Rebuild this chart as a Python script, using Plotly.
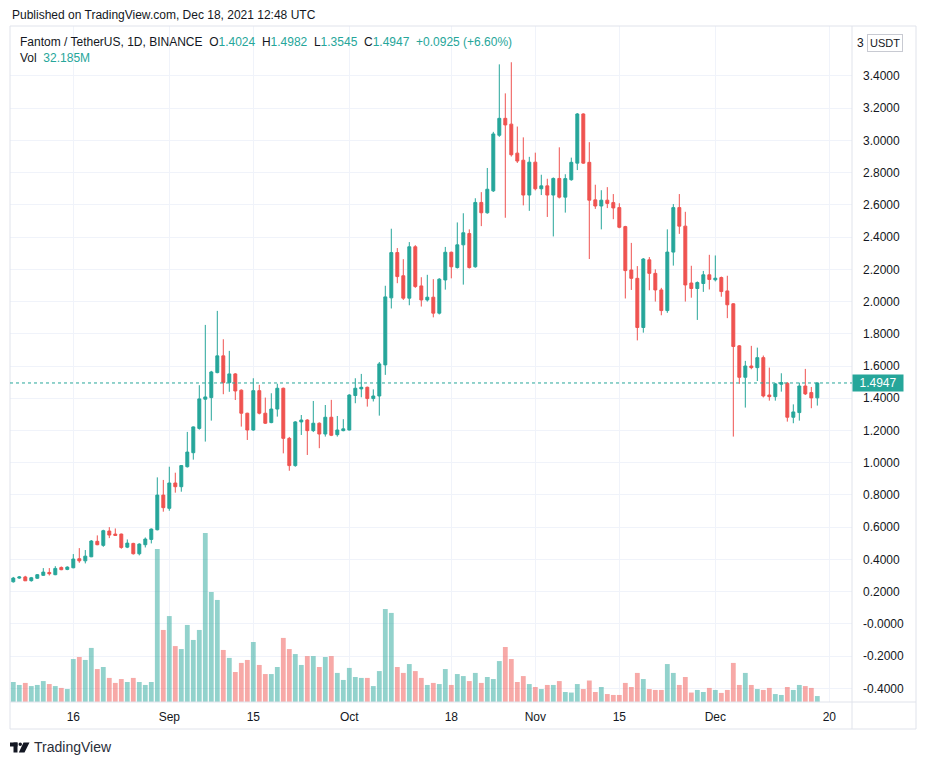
import pandas as pd
import plotly.graph_objects as go

# FTM/USDT daily candles, Aug 6 - Dec 18 2021
dates = pd.date_range("2021-08-06", "2021-12-18", freq="D")

opens = [0.261, 0.284, 0.291, 0.268, 0.283, 0.301, 0.319, 0.305, 0.350, 0.338,
         0.348, 0.404, 0.391, 0.416, 0.512, 0.487, 0.576, 0.557, 0.557, 0.476,
         0.499, 0.435, 0.491, 0.524, 0.584, 0.799, 0.717, 0.874, 0.851, 0.975,
         1.062, 1.213, 1.394, 1.404, 1.559, 1.663, 1.497, 1.551, 1.450, 1.307,
         1.203, 1.447, 1.307, 1.249, 1.333, 1.462, 1.151, 0.982, 1.253, 1.265,
         1.199, 1.245, 1.178, 1.282, 1.174, 1.199, 1.203, 1.417, 1.458, 1.468,
         1.398, 1.414, 1.607, 2.023, 2.304, 2.160, 2.021, 2.340, 2.097, 2.010,
         2.027, 1.928, 2.134, 2.306, 2.211, 2.352, 2.422, 2.216, 2.615, 2.551,
         2.687, 3.032, 3.137, 3.101, 2.921, 2.877, 2.661, 2.865, 2.700, 2.718,
         2.661, 2.764, 2.648, 2.756, 2.859, 3.164, 2.864, 2.631, 2.593, 2.629,
         2.614, 2.583, 2.465, 2.196, 2.144, 1.839, 2.259, 2.175, 2.072, 1.944,
         2.307, 2.583, 2.468, 2.115, 2.081, 2.112, 2.166, 2.135, 2.149, 2.066,
         1.986, 1.725, 1.530, 1.600, 1.590, 1.652, 1.420, 1.410, 1.487, 1.493,
         1.282, 1.311, 1.476, 1.435, 1.4024]

highs = [0.291, 0.297, 0.298, 0.291, 0.309, 0.346, 0.346, 0.358, 0.356, 0.357,
         0.433, 0.470, 0.458, 0.520, 0.549, 0.584, 0.600, 0.592, 0.560, 0.524,
         0.503, 0.500, 0.536, 0.592, 0.909, 0.893, 0.975, 0.938, 0.985, 1.191,
         1.225, 1.481, 1.855, 1.570, 1.942, 1.766, 1.694, 1.556, 1.455, 1.310,
         1.524, 1.483, 1.404, 1.431, 1.490, 1.466, 1.160, 1.258, 1.296, 1.270,
         1.383, 1.250, 1.358, 1.390, 1.290, 1.270, 1.425, 1.524, 1.551, 1.472,
         1.455, 1.625, 2.098, 2.452, 2.332, 2.263, 2.369, 2.350, 2.151, 2.166,
         2.139, 2.145, 2.339, 2.310, 2.491, 2.548, 2.448, 2.641, 2.679, 2.829,
         3.053, 3.472, 3.292, 3.485, 3.086, 3.019, 2.898, 2.924, 2.787, 2.762,
         2.770, 2.957, 2.790, 2.893, 3.170, 3.168, 2.989, 2.725, 2.691, 2.710,
         2.667, 2.610, 2.470, 2.364, 2.220, 2.270, 2.276, 2.200, 2.085, 2.448,
         2.605, 2.667, 2.557, 2.222, 2.125, 2.190, 2.290, 2.286, 2.155, 2.160,
         1.990, 1.730, 1.632, 1.725, 1.714, 1.665, 1.590, 1.495, 1.555, 1.500,
         1.362, 1.497, 1.582, 1.470, 1.4982]

lows = [0.256, 0.279, 0.266, 0.262, 0.279, 0.298, 0.300, 0.302, 0.333, 0.333,
        0.345, 0.379, 0.375, 0.414, 0.488, 0.478, 0.532, 0.545, 0.466, 0.470,
        0.430, 0.425, 0.474, 0.499, 0.580, 0.696, 0.702, 0.814, 0.820, 0.970,
        1.019, 1.205, 1.131, 1.261, 1.555, 1.425, 1.440, 1.389, 1.224, 1.141,
        1.198, 1.300, 1.240, 1.245, 1.286, 1.058, 0.950, 0.975, 1.172, 1.048,
        1.190, 1.090, 1.162, 1.165, 1.162, 1.195, 1.200, 1.369, 1.406, 1.348,
        1.380, 1.292, 1.545, 1.957, 2.114, 2.010, 1.977, 2.085, 1.969, 2.000,
        1.902, 1.920, 2.074, 2.144, 2.205, 2.105, 2.205, 2.210, 2.468, 2.545,
        2.680, 3.022, 2.520, 2.900, 2.860, 2.597, 2.563, 2.690, 2.661, 2.525,
        2.404, 2.640, 2.552, 2.750, 2.816, 2.855, 2.264, 2.575, 2.448, 2.580,
        2.511, 2.455, 2.019, 2.072, 1.759, 1.807, 2.070, 2.000, 1.915, 1.930,
        2.223, 2.420, 2.000, 2.024, 1.886, 2.060, 2.075, 2.125, 2.030, 1.897,
        1.162, 1.489, 1.342, 1.580, 1.507, 1.405, 1.385, 1.385, 1.441, 1.255,
        1.245, 1.261, 1.420, 1.338, 1.3545]

closes = [0.284, 0.291, 0.267, 0.286, 0.305, 0.321, 0.311, 0.344, 0.336, 0.352,
          0.402, 0.391, 0.420, 0.514, 0.491, 0.578, 0.551, 0.549, 0.474, 0.501,
          0.435, 0.495, 0.526, 0.588, 0.799, 0.721, 0.874, 0.851, 0.982, 1.066,
          1.222, 1.396, 1.408, 1.563, 1.663, 1.497, 1.551, 1.445, 1.307, 1.203,
          1.447, 1.307, 1.245, 1.333, 1.462, 1.151, 0.982, 1.253, 1.265, 1.199,
          1.245, 1.178, 1.282, 1.170, 1.203, 1.210, 1.420, 1.462, 1.468, 1.398,
          1.414, 1.613, 2.029, 2.304, 2.155, 2.021, 2.340, 2.093, 2.010, 2.027,
          1.928, 2.139, 2.306, 2.216, 2.352, 2.427, 2.211, 2.615, 2.551, 2.697,
          3.040, 3.137, 3.096, 2.911, 2.872, 2.661, 2.865, 2.700, 2.718, 2.661,
          2.764, 2.648, 2.763, 2.864, 3.164, 2.859, 2.629, 2.593, 2.629, 2.609,
          2.581, 2.461, 2.192, 2.144, 1.839, 2.264, 2.175, 2.072, 1.944, 2.307,
          2.583, 2.468, 2.103, 2.081, 2.118, 2.166, 2.137, 2.145, 2.062, 1.980,
          1.721, 1.530, 1.600, 1.590, 1.652, 1.414, 1.410, 1.489, 1.497, 1.282,
          1.315, 1.476, 1.427, 1.4022, 1.4947]

# volume, millions
volumes = [108, 92, 103, 86, 92, 113, 97, 86, 76, 70,
           232, 243, 227, 292, 178, 189, 130, 103, 124, 108,
           130, 108, 92, 108, 826, 389, 464, 302, 286, 416,
           335, 389, 913, 594, 551, 281, 238, 162, 211, 227,
           324, 200, 151, 151, 189, 346, 286, 259, 200, 248,
           248, 189, 243, 248, 157, 119, 184, 135, 130, 130,
           86, 167, 502, 481, 189, 157, 205, 167, 130, 92,
           103, 97, 178, 92, 151, 140, 113, 157, 103, 135,
           124, 221, 297, 232, 108, 140, 97, 81, 70, 92,
           92, 113, 54, 51, 97, 70, 116, 54, 81, 43,
           38, 38, 103, 81, 157, 124, 70, 65, 65, 205,
           157, 92, 135, 51, 65, 54, 76, 65, 49, 65,
           211, 92, 157, 92, 70, 65, 76, 43, 38, 81,
           65, 92, 86, 76, 32.185]

x_tickvals = ["2021-08-16", "2021-09-01", "2021-09-15", "2021-10-01", "2021-10-18",
              "2021-11-01", "2021-11-15", "2021-12-01", "2021-12-20"]
x_ticktext = ["16", "Sep", "15", "Oct", "18", "Nov", "15", "Dec", "20"]

y_tickvals = [-0.4, -0.2, 0.0, 0.2, 0.4, 0.6, 0.8, 1.0, 1.2, 1.4, 1.6, 1.8,
              2.0, 2.2, 2.4, 2.6, 2.8, 3.0, 3.2, 3.4]
y_ticktext = ["-0.4000", "-0.2000", "-0.0000", "0.2000", "0.4000", "0.6000",
              "0.8000", "1.0000", "1.2000", "1.4000", "1.6000", "1.8000",
              "2.0000", "2.2000", "2.4000", "2.6000", "2.8000", "3.0000",
              "3.2000", "3.4000"]

UP = "#26a69a"
DOWN = "#ef5350"
TEXT = "#131722"
BORDER = "#e0e3eb"
GRID = "#f0f3fa"
FONT = "Liberation Sans"

W, H = 926, 765
L, R, T, B = 10, 74, 26, 63
PW, PH = W - L - R, H - T - B


def px2x(px):
    return (px - L) / PW


def px2y(py):
    return (H - B - py) / PH


vol_colors = ["rgba(38,166,154,0.5)" if c >= o else "rgba(239,83,80,0.5)"
              for o, c in zip(opens, closes)]

fig = go.Figure()

fig.add_trace(go.Bar(x=dates, y=volumes, marker_color=vol_colors,
                     marker_line_width=0, yaxis="y2", hoverinfo="skip"))

fig.add_trace(go.Candlestick(x=dates, open=opens, high=highs, low=lows, close=closes,
                             increasing=dict(line=dict(color=UP, width=1), fillcolor=UP),
                             decreasing=dict(line=dict(color=DOWN, width=1), fillcolor=DOWN),
                             whiskerwidth=0))

last_o, last_h, last_l, last_c = opens[-1], highs[-1], lows[-1], closes[-1]
chg = last_c - closes[-2]
pct = chg / closes[-2] * 100


def teal(s):
    return f"<span style='color:{UP}'>{s}</span>"


header = (f"Fantom / TetherUS, 1D, BINANCE  O{teal(f'{last_o:.4f}')}  H{teal(f'{last_h:.4f}')}"
          f"  L{teal(f'{last_l:.4f}')}  C{teal(f'{last_c:.4f}')}  {teal(f'{chg:+.4f} ({pct:+.2f}%)')}")
vol_line = f"Vol  {teal(f'{volumes[-1]:.3f}M')}"

# pane frame and separators
shapes = [
    dict(type="rect", xref="paper", yref="paper", x0=px2x(10), x1=px2x(916),
         y0=px2y(729), y1=px2y(26), line=dict(color=BORDER, width=1), layer="above"),
    dict(type="line", xref="paper", yref="paper", x0=1, x1=1,
         y0=px2y(729), y1=px2y(26), line=dict(color=BORDER, width=1)),
    dict(type="line", xref="paper", yref="paper", x0=0, x1=px2x(916),
         y0=0, y1=0, line=dict(color=BORDER, width=1)),
    dict(type="line", xref="paper", yref="y", x0=0, x1=1, y0=last_c, y1=last_c,
         line=dict(color=UP, width=1, dash="dot")),
]

# small TradingView logo
logo = [
    (10, 742.5, 17.5, 746.5, "rect"),
    (13.5, 742.5, 17.5, 752.5, "rect"),
    (18.5, 742.5, 22.0, 746.0, "circle"),
]
for x0, y0, x1, y1, kind in logo:
    shapes.append(dict(type=kind, xref="paper", yref="paper", x0=px2x(x0), x1=px2x(x1),
                       y0=px2y(y1), y1=px2y(y0), fillcolor=TEXT, line_width=0))
pts = [(23.5, 742.5), (29.5, 742.5), (24.5, 752.5), (18.8, 752.5)]
path = "M " + " L ".join(f"{px2x(a)},{px2y(b)}" for a, b in pts) + " Z"
shapes.append(dict(type="path", xref="paper", yref="paper", path=path,
                   fillcolor=TEXT, line_width=0))

annotations = [
    dict(text="Published on TradingView.com, Dec 18, 2021 12:48 UTC", xref="paper", yref="paper",
         x=px2x(10), y=px2y(15), xanchor="left", yanchor="middle", showarrow=False,
         font=dict(size=12, color=TEXT, family=FONT)),
    dict(text=header, xref="paper", yref="paper", x=px2x(18), y=px2y(42),
         xanchor="left", yanchor="middle", showarrow=False,
         font=dict(size=12, color=TEXT, family=FONT)),
    dict(text=vol_line, xref="paper", yref="paper", x=px2x(18), y=px2y(58),
         xanchor="left", yanchor="middle", showarrow=False,
         font=dict(size=12, color=TEXT, family=FONT)),
    dict(text=f"{last_c:.4f}", xref="paper", yref="y", x=1, y=last_c,
         xanchor="left", yanchor="middle", showarrow=False, bgcolor=UP,
         width=48, height=14, borderpad=1,
         font=dict(size=12, color="white", family=FONT)),
    # clipped top price label peeking out from behind the currency badge
    dict(text="3", xref="paper", yref="paper", x=px2x(866), y=px2y(43),
         xanchor="right", yanchor="middle", showarrow=False,
         font=dict(size=12, color=TEXT, family=FONT)),
    dict(text="USDT", xref="paper", yref="paper", x=px2x(885), y=px2y(43),
         xanchor="center", yanchor="middle", showarrow=False, bgcolor="white",
         bordercolor="#c8cad2", borderwidth=1, borderpad=2,
         font=dict(size=11, color=TEXT, family=FONT)),
    dict(text="TradingView", xref="paper", yref="paper", x=px2x(32), y=px2y(747),
         xanchor="left", yanchor="middle", showarrow=False,
         font=dict(size=14, color="#2a2e39", family=FONT)),
]

fig.update_layout(
    width=W, height=H,
    margin=dict(l=L, r=R, t=T, b=B),
    paper_bgcolor="white", plot_bgcolor="white",
    showlegend=False, bargap=0.2,
    font=dict(family=FONT, size=12, color=TEXT),
    xaxis=dict(type="date", range=["2021-08-05 10:48", "2021-12-23 18:43"],
               tickvals=x_tickvals, ticktext=x_ticktext, showgrid=True, gridcolor=GRID,
               zeroline=False, showline=False, ticks="", ticklabelstandoff=6,
               rangeslider=dict(visible=False), tickfont=dict(size=12, color=TEXT)),
    yaxis=dict(side="right", range=[-0.485, 3.71], tickvals=y_tickvals, ticktext=y_ticktext,
               showgrid=True, gridcolor=GRID, zeroline=False, showline=False, ticks="",
               ticklabelstandoff=10, tickfont=dict(size=12, color=TEXT)),
    yaxis2=dict(overlaying="y", range=[0, PH * 5.4], visible=False),
    shapes=shapes,
    annotations=annotations,
)

# drop the browser's default page margin so the figure sits at the window origin
fig.write_html("out.html", config={"displayModeBar": False},
               post_script="document.body.style.margin = '0';")
